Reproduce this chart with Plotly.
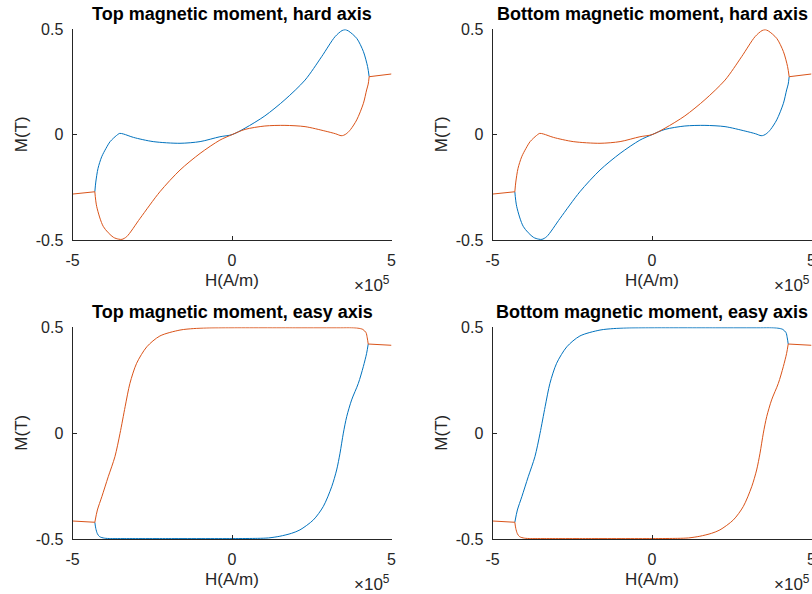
import plotly.graph_objects as go

# ---------------- data (H in units of 1e5 A/m, M in T) ----------------
# hard axis: upper branch (blue in "Top", orange in "Bottom")
hard_up_H = [-4.30, -4.27, -4.20, -4.085, -3.95, -3.82, -3.62, -3.52, -3.40, -3.09, -2.47, -1.63, -1.00,
             -0.38, 0.0, 0.41, 1.03, 1.66, 2.29, 2.81, 3.23, 3.45, 3.55, 3.65, 3.91, 4.12, 4.25, 4.30]
hard_up_M = [-0.271, -0.225, -0.160, -0.105, -0.065, -0.033, -0.004, 0.006, 0.003, -0.013, -0.033, -0.041, -0.033,
             -0.010, 0.0, 0.031, 0.089, 0.166, 0.259, 0.370, 0.465, 0.494, 0.498, 0.492, 0.457, 0.394, 0.323, 0.275]
# hard axis: lower branch (orange in "Top", blue in "Bottom")
hard_lo_H = [4.30, 4.27, 4.22, 4.12, 3.91, 3.72, 3.60, 3.50, 3.42, 3.25, 2.92, 2.29, 1.66, 1.03, 0.41, 0.0,
             -0.38, -1.00, -1.63, -2.26, -2.88, -3.30, -3.45, -3.55, -3.72, -4.03, -4.24, -4.30]
hard_lo_M = [0.275, 0.240, 0.212, 0.149, 0.070, 0.025, 0.006, -0.003, -0.005, 0.004, 0.017, 0.038, 0.044, 0.041,
             0.025, 0.0, -0.026, -0.089, -0.168, -0.271, -0.397, -0.484, -0.497, -0.496, -0.487, -0.437, -0.342, -0.271]
# hard axis: saturated tails
hard_tail_r_H = [4.30, 5.00]
hard_tail_r_M = [0.275, 0.288]
hard_tail_l_H = [-4.30, -5.00]
hard_tail_l_M = [-0.271, -0.282]

# easy axis: lower/right branch (blue in "Top", orange in "Bottom")
easy_lo_H = [-4.30, -4.27, -4.22, -4.15, -4.00, -3.80, -3.50, -2.00, 0.0, 0.80, 1.14, 1.50, 1.87, 2.13, 2.55,
             2.86, 3.125, 3.28, 3.386, 3.49, 3.596, 3.75, 3.96, 4.116, 4.22, 4.27]
easy_lo_M = [-0.421, -0.450, -0.475, -0.489, -0.496, -0.498, -0.498, -0.498, -0.498, -0.497, -0.495, -0.487, -0.473,
             -0.457, -0.410, -0.347, -0.253, -0.174, -0.095, 0.0, 0.078, 0.157, 0.235, 0.314, 0.377, 0.421]
# easy axis: upper/left branch (orange in "Top", blue in "Bottom")
easy_up_H = [4.27, 4.24, 4.20, 4.10, 3.95, 3.75, 3.40, 2.00, 0.0, -0.79, -1.20, -1.63, -2.26, -2.67, -2.99, -3.20,
             -3.35, -3.51, -3.67, -3.88, -4.08, -4.22, -4.30]
easy_up_M = [0.421, 0.450, 0.475, 0.490, 0.496, 0.498, 0.498, 0.498, 0.498, 0.497, 0.494, 0.487, 0.459, 0.408,
             0.330, 0.235, 0.125, -0.001, -0.111, -0.206, -0.300, -0.363, -0.421]
# easy axis: saturated tails
easy_tail_r_H = [4.27, 5.00]
easy_tail_r_M = [0.421, 0.415]
easy_tail_l_H = [-4.30, -5.00]
easy_tail_l_M = [-0.421, -0.415]

titles = ["Top magnetic moment, hard axis", "Bottom magnetic moment, hard axis",
          "Top magnetic moment, easy axis", "Bottom magnetic moment, easy axis"]
x_ticks = [-5, 0, 5]
x_ticklabels = ["-5", "0", "5"]
y_ticks = [-0.5, 0, 0.5]
y_ticklabels = ["-0.5", "0", "0.5"]
SCALE = 1e5

BLUE = "#0072BD"
ORANGE = "#D95319"
AX = "#262626"
FONT = "Liberation Sans, Arial, Helvetica, sans-serif"
W, H = 812, 594

# panel geometry in pixels
x_left = [(72.5, 391.5), (492.5, 811.5)]
y_rows = [(29.3, 240.0), (327.3, 539.0)]

fig = go.Figure()


def sc(v):
    return [a * SCALE for a in v]


def add_line(xs, ys, color, idx):
    fig.add_trace(go.Scatter(
        x=sc(xs), y=ys, mode="lines",
        line=dict(color=color, width=1.0, shape="spline", smoothing=0.8),
        xaxis="x" if idx == 1 else f"x{idx}", yaxis="y" if idx == 1 else f"y{idx}",
        showlegend=False, hoverinfo="skip"))


# panel 1: top hard
add_line(hard_up_H, hard_up_M, BLUE, 1)
add_line(hard_lo_H, hard_lo_M, ORANGE, 1)
add_line(hard_tail_r_H, hard_tail_r_M, ORANGE, 1)
add_line(hard_tail_l_H, hard_tail_l_M, ORANGE, 1)
# panel 2: bottom hard
add_line(hard_lo_H, hard_lo_M, BLUE, 2)
add_line(hard_up_H, hard_up_M, ORANGE, 2)
add_line(hard_tail_r_H, hard_tail_r_M, ORANGE, 2)
add_line(hard_tail_l_H, hard_tail_l_M, ORANGE, 2)
# panel 3: top easy
add_line(easy_lo_H, easy_lo_M, BLUE, 3)
add_line(easy_up_H, easy_up_M, ORANGE, 3)
add_line(easy_tail_r_H, easy_tail_r_M, ORANGE, 3)
add_line(easy_tail_l_H, easy_tail_l_M, ORANGE, 3)
# panel 4: bottom easy
add_line(easy_up_H, easy_up_M, BLUE, 4)
add_line(easy_lo_H, easy_lo_M, ORANGE, 4)
add_line(easy_tail_r_H, easy_tail_r_M, ORANGE, 4)
add_line(easy_tail_l_H, easy_tail_l_M, ORANGE, 4)

layout = dict(width=W, height=H, margin=dict(l=0, r=0, t=0, b=0, autoexpand=False),
              paper_bgcolor="white", plot_bgcolor="white", template="none",
              font=dict(family=FONT, color=AX, size=16), showlegend=False)

annotations = []
for i in range(4):
    r, c = divmod(i, 2)
    x0, x1 = x_left[c]
    y0, y1 = y_rows[r]
    sfx = "" if i == 0 else str(i + 1)
    layout["xaxis" + sfx] = dict(
        domain=[x0 / W, x1 / W], range=[-5 * SCALE, 5 * SCALE], anchor="y" + sfx,
        tickvals=[t * SCALE for t in x_ticks], ticktext=x_ticklabels,
        ticks="inside", ticklen=4, tickcolor=AX, tickwidth=1,
        showline=True, linecolor=AX, linewidth=1, mirror=False, automargin=False,
        showgrid=False, zeroline=False, ticklabelstandoff=6, ticklabeloverflow="allow",
        tickfont=dict(size=16, color=AX, family=FONT), fixedrange=True)
    layout["yaxis" + sfx] = dict(
        domain=[1 - y1 / H, 1 - y0 / H], range=[-0.5, 0.5], anchor="x" + sfx,
        tickvals=y_ticks, ticktext=y_ticklabels,
        ticks="inside", ticklen=4, tickcolor=AX, tickwidth=1,
        showline=True, linecolor=AX, linewidth=1, mirror=False, automargin=False,
        showgrid=False, zeroline=False, ticklabelstandoff=5, ticklabeloverflow="allow",
        tickfont=dict(size=16, color=AX, family=FONT), fixedrange=True)
    xc = (x0 + x1) / 2
    # title
    annotations.append(dict(text="<b>" + titles[i] + "</b>", x=xc / W, y=1 - (y0 - 15) / H,
                            xref="paper", yref="paper", showarrow=False,
                            xanchor="center", yanchor="middle",
                            font=dict(size=18, color="black", family=FONT)))
    # x label
    annotations.append(dict(text="H(A/m)", x=xc / W, y=1 - (y1 + 40) / H,
                            xref="paper", yref="paper", showarrow=False,
                            xanchor="center", yanchor="middle",
                            font=dict(size=17, color=AX, family=FONT)))
    # exponent
    annotations.append(dict(text="×10<sup>5</sup>", x=(x1 + 0.5) / W, y=1 - (y1 + 57) / H,
                            xref="paper", yref="paper", showarrow=False,
                            xanchor="right", yanchor="bottom",
                            font=dict(size=17, color=AX, family=FONT)))
    # y label
    annotations.append(dict(text="M(T)", x=(x0 - 51) / W, y=1 - ((y0 + y1) / 2) / H,
                            xref="paper", yref="paper", showarrow=False, textangle=-90,
                            xanchor="center", yanchor="middle",
                            font=dict(size=17, color=AX, family=FONT)))

layout["annotations"] = annotations
fig.update_layout(**layout)
fig.write_html("out.html")
